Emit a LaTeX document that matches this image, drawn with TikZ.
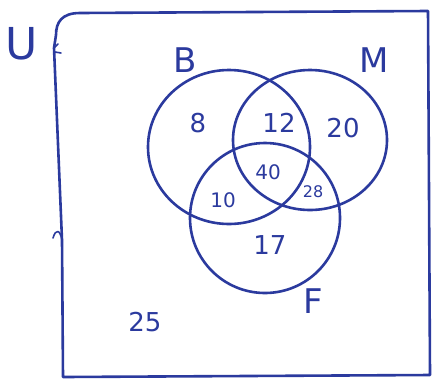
\documentclass[tikz,border=0pt]{standalone}
\usepackage{fontspec}
\setmainfont{DejaVu Sans}
\begin{document}
\begin{tikzpicture}[x=1pt,y=-1pt,
  ink/.style={draw=penblue,line width=2.6pt,line cap=round,line join=round},
  lab/.style={text=penblue,inner sep=0pt,font=\fontsize{34}{36}\selectfont},
  num/.style={text=penblue,inner sep=0pt,font=\fontsize{26}{28}\selectfont},
  smallnum/.style={text=penblue,inner sep=0pt,font=\fontsize{20}{22}\selectfont}]
\definecolor{penblue}{HTML}{2B3A9E}
\useasboundingbox (0,0) rectangle (435,381);
% universal set frame
\draw[ink] (56,35) .. controls (56,22) and (62,13) .. (80,13) -- (428,11) -- (430,375) -- (63,377) -- (62,240) -- (54,48) -- cycle;
\draw[ink,line width=1.6pt] (54,48) -- (58,44) (55,52) -- (61,53);
\draw[ink,line width=1.6pt] (53,238) .. controls (56,228) and (60,230) .. (62,240);
% sets
\draw[ink] (229,147) ellipse [x radius=81, y radius=77];
\draw[ink] (310,140) ellipse [x radius=77, y radius=70];
\draw[ink] (265,218) ellipse [x radius=75, y radius=75];
% labels
\node[lab,font=\fontsize{44}{46}\selectfont] (u) at (22,44) {U};
\node[lab] (b) at (185,60) {B};
\node[lab] (m) at (374,60) {M};
\node[lab] (f) at (313,301) {F};
\node[num] (n25) at (145,322) {25};
\node[num] (n8) at (198,123) {8};
\node[num] (n12) at (279,123) {12};
\node[num] (n20) at (343,128) {20};
\node[smallnum] (n40) at (268,172) {40};
\node[smallnum,font=\fontsize{16}{18}\selectfont] (n28) at (313,192) {28};
\node[smallnum] (n10) at (223,200) {10};
\node[num] (n17) at (270,245) {17};
\end{tikzpicture}
\end{document}
